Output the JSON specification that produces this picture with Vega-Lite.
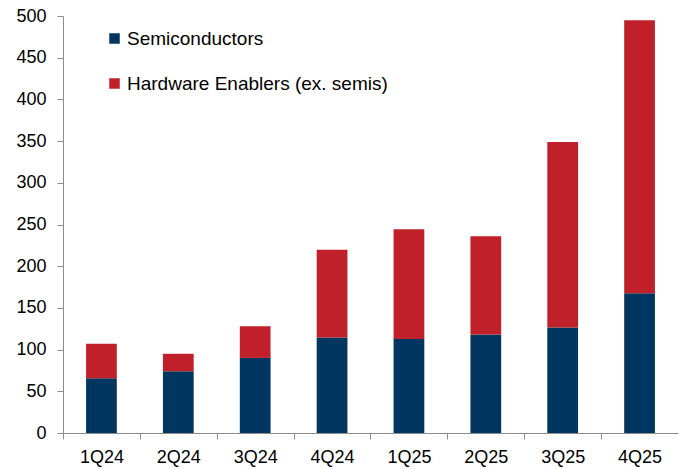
{
  "$schema": "https://vega.github.io/schema/vega-lite/v6.json",
  "width": 615,
  "height": 417,
  "autosize": {"type": "none"},
  "padding": {"left": 63, "top": 16, "right": 8, "bottom": 36},
  "background": "white",
  "config": {
    "view": {"stroke": null},
    "font": "Liberation Sans"
  },
  "data": {
    "values": [
      {"quarter": "1Q24", "series": "Semiconductors", "value": 65.5},
      {"quarter": "1Q24", "series": "Hardware Enablers (ex. semis)", "value": 41.5},
      {"quarter": "2Q24", "series": "Semiconductors", "value": 74},
      {"quarter": "2Q24", "series": "Hardware Enablers (ex. semis)", "value": 21},
      {"quarter": "3Q24", "series": "Semiconductors", "value": 90},
      {"quarter": "3Q24", "series": "Hardware Enablers (ex. semis)", "value": 38},
      {"quarter": "4Q24", "series": "Semiconductors", "value": 114.6},
      {"quarter": "4Q24", "series": "Hardware Enablers (ex. semis)", "value": 105},
      {"quarter": "1Q25", "series": "Semiconductors", "value": 112.6},
      {"quarter": "1Q25", "series": "Hardware Enablers (ex. semis)", "value": 131.8},
      {"quarter": "2Q25", "series": "Semiconductors", "value": 118.2},
      {"quarter": "2Q25", "series": "Hardware Enablers (ex. semis)", "value": 117.8},
      {"quarter": "3Q25", "series": "Semiconductors", "value": 126.6},
      {"quarter": "3Q25", "series": "Hardware Enablers (ex. semis)", "value": 222.4},
      {"quarter": "4Q25", "series": "Semiconductors", "value": 167.7},
      {"quarter": "4Q25", "series": "Hardware Enablers (ex. semis)", "value": 327.1}
    ]
  },
  "mark": {"type": "bar"},
  "encoding": {
    "x": {
      "field": "quarter",
      "type": "nominal",
      "sort": null,
      "scale": {"paddingInner": 0.6, "paddingOuter": 0.3},
      "axis": {
        "title": null,
        "labelAngle": 0,
        "labelFontSize": 18,
        "labelColor": "#000000",
        "labelPadding": 9,
        "domainColor": "#8c8c8c",
        "tickColor": "#8c8c8c",
        "tickSize": 6,
        "tickOffset": -38.44,
        "labelOffset": 38.44,
        "grid": false
      }
    },
    "y": {
      "field": "value",
      "type": "quantitative",
      "stack": "zero",
      "scale": {"domain": [0, 500], "nice": false},
      "axis": {
        "title": null,
        "values": [0, 50, 100, 150, 200, 250, 300, 350, 400, 450, 500],
        "labelFontSize": 18,
        "labelColor": "#000000",
        "labelPadding": 11,
        "domainColor": "#8c8c8c",
        "tickColor": "#8c8c8c",
        "tickSize": 6,
        "grid": false
      }
    },
    "color": {
      "field": "series",
      "type": "nominal",
      "sort": ["Semiconductors", "Hardware Enablers (ex. semis)"],
      "scale": {
        "domain": ["Semiconductors", "Hardware Enablers (ex. semis)"],
        "range": ["#00365F", "#C0202A"]
      },
      "legend": {
        "title": null,
        "orient": "none",
        "legendX": 42,
        "legendY": 13,
        "symbolType": "square",
        "symbolSize": 110,
        "symbolStrokeWidth": 0,
        "labelFontSize": 19,
        "labelColor": "#000000",
        "labelOffset": 3,
        "labelLimit": 0,
        "rowPadding": 25
      }
    },
    "order": {"field": "series", "sort": "descending"}
  }
}
